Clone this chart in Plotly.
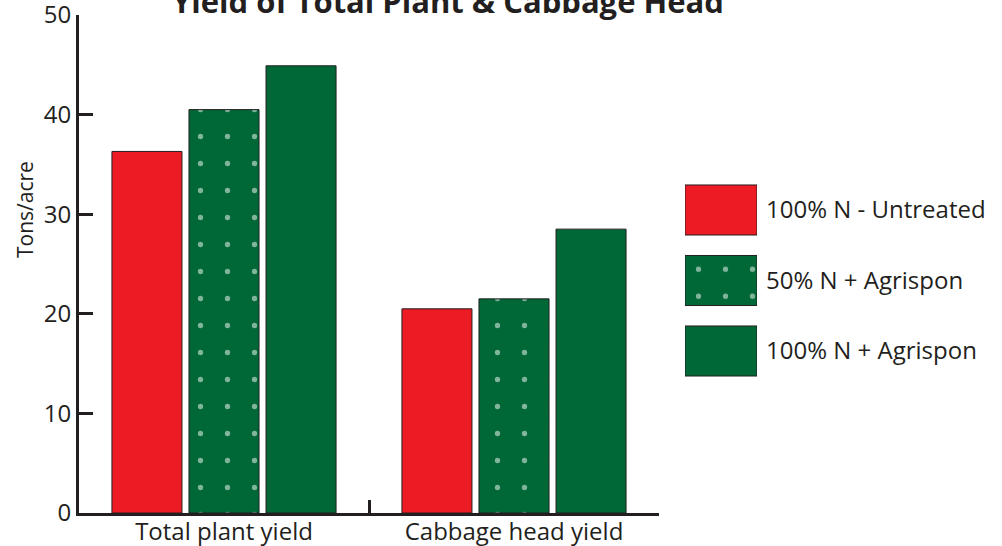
import plotly.graph_objects as go

categories = ["Total plant yield", "Cabbage head yield"]
series_names = ["100% N - Untreated", "50% N + Agrispon", "100% N + Agrispon"]
untreated = [36.3, 20.5]
half_n_agrispon = [40.5, 21.5]
full_n_agrispon = [44.9, 28.5]
series_values = [untreated, half_n_agrispon, full_n_agrispon]
y_ticks = [0, 10, 20, 30, 40, 50]
title_text = "Yield of Total Plant & Cabbage Head"
y_title = "Tons/acre"

RED = "#ed1c24"
GREEN = "#006837"
INK = "#231f20"
colors = [RED, GREEN, GREEN]
patterns = ["", ".", ""]
FONT = "Open Sans"
DOTS = dict(fgcolor="white", size=27, solidity=0.03)

fig = go.Figure()
for name, vals, col, pat in zip(series_names, series_values, colors, patterns):
    fig.add_trace(go.Bar(
        x=categories, y=vals, name=name,
        marker=dict(color=col, line=dict(color=INK, width=1),
                    pattern=dict(shape=pat, **DOTS)),
        xaxis="x", yaxis="y", showlegend=False, hoverinfo="skip",
    ))

# Legend drawn as a small horizontal-bar subplot (large swatches)
fig.add_trace(go.Bar(
    y=series_names, x=[1, 1, 1], orientation="h", width=0.71,
    marker=dict(color=colors, line=dict(color=INK, width=1),
                pattern=dict(shape=patterns, **DOTS)),
    xaxis="x2", yaxis="y2", showlegend=False, hoverinfo="skip",
))

L, T, B = 79, 15, 33
W, H = 1002, 546
pw = W - L
ph = H - T - B

def px_x(p):
    return (p - L) / pw

def px_y(p):
    return (H - B - p) / ph

fig.update_layout(
    width=W, height=H,
    margin=dict(l=L, r=0, t=T, b=B, autoexpand=False),
    paper_bgcolor="white", plot_bgcolor="white",
    barmode="group", bargap=0.203, bargroupgap=0.091,
    font=dict(family=FONT, color=INK, size=24),
    showlegend=False,
    xaxis=dict(
        domain=[0, px_x(659)], range=[-0.5, 1.5], type="category",
        showline=True, linecolor=INK, linewidth=3,
        ticks="inside", tickson="boundaries", ticklen=13, tickwidth=3, tickcolor=INK,
        showgrid=False, zeroline=False, tickfont=dict(size=24, color=INK),
        ticklabelstandoff=-5, ticklabeloverflow="allow",
        automargin=False,
    ),
    yaxis=dict(
        domain=[0, 1], range=[0, 50], tickvals=y_ticks,
        showline=True, linecolor=INK, linewidth=3,
        ticks="inside", ticklen=14, tickwidth=3, tickcolor=INK,
        showgrid=False, zeroline=False, tickfont=dict(size=24, color=INK),
        ticklabeloverflow="allow",
        automargin=False,
    ),
    xaxis2=dict(
        domain=[px_x(685), px_x(757)], range=[0, 1], anchor="y2",
        visible=False, fixedrange=True,
    ),
    yaxis2=dict(
        domain=[px_y(386.25), px_y(174.75)], anchor="x2", side="right",
        range=[2.5, -0.5], type="category",
        showline=False, showgrid=False, zeroline=False, ticks="",
        tickfont=dict(size=24, color=INK), ticklabelstandoff=8,
        ticklabeloverflow="allow",
        automargin=False,
    ),
    annotations=[
        dict(
            text="<b>" + title_text + "</b>", xref="paper", yref="paper",
            x=px_x(448), y=px_y(24), xanchor="center", yanchor="bottom",
            showarrow=False, font=dict(size=31, color=INK, family=FONT),
        ),
        dict(
            text=y_title, xref="paper", yref="paper", textangle=-90,
            x=px_x(25), y=px_y(210), xanchor="center", yanchor="middle",
            showarrow=False, font=dict(size=21, color=INK, family=FONT),
        ),
    ],
)

fig.write_html(
    "out.html",
    config={"displayModeBar": False},
    post_script="document.body.style.margin='0';document.body.style.overflow='hidden';",
)
